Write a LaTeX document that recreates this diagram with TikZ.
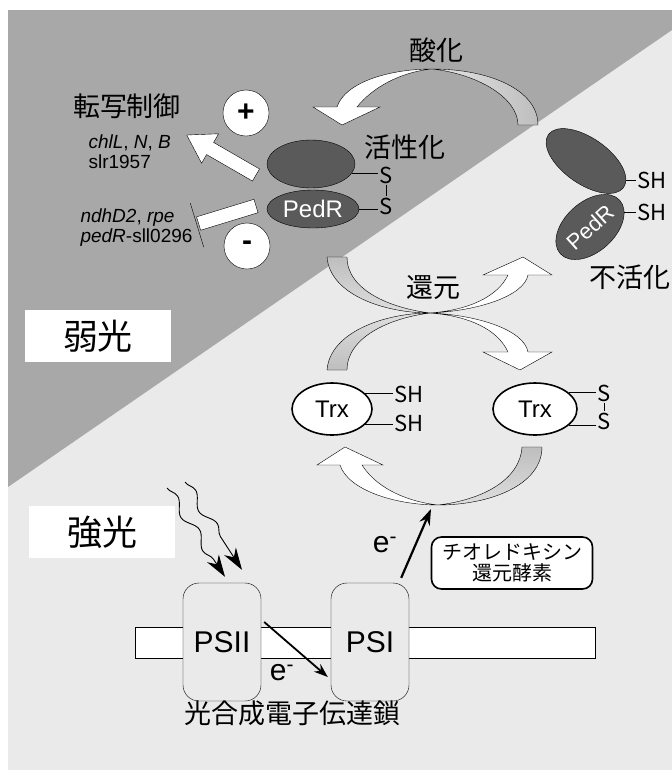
\documentclass[tikz,border=0pt]{standalone}
\usepackage{fontspec}
\setmainfont{Liberation Sans}
\newfontfamily\jp{Noto Sans CJK JP}
\usepackage{xcolor}
\usetikzlibrary{shapes.geometric,arrows.meta,decorations.pathmorphing}

\definecolor{darkbg}{RGB}{168,168,168}
\definecolor{lightbg}{RGB}{234,234,234}
\definecolor{pedgray}{RGB}{90,90,90}
\definecolor{tailgray}{RGB}{190,190,190}

\begin{document}
\begin{tikzpicture}[x=1pt,y=-1pt,
  pedr/.style={ellipse, draw, fill=pedgray, inner sep=0pt},
  trx/.style={ellipse, draw, line width=1.6pt, fill=white, inner sep=0pt,
    minimum height=52pt, font=\fontsize{24}{24}\selectfont},
  ps/.style={draw, rounded corners=16pt, fill=lightbg, minimum width=78pt,
    minimum height=118pt, font=\fontsize{30}{30}\selectfont},
  jlabel/.style={font=\jp\fontsize{27}{27}\selectfont},
  bond/.style={font=\jp\fontsize{22}{22}\selectfont, inner sep=1pt},
  sign/.style={circle, draw, fill=white, minimum size=46pt, inner sep=0pt,
    font=\bfseries\fontsize{30}{30}\selectfont},
  gene/.style={anchor=west, align=left, font=\fontsize{19}{20}\selectfont},
  lightbox/.style={fill=white, minimum width=146pt, minimum height=52pt,
    font=\jp\fontsize{35}{35}\selectfont},
  tailpart/.style={draw, fill=tailgray},
  headpart/.style={draw, fill=white},
  photon/.style={line width=0.9pt, decorate, decoration={snake, amplitude=4.5pt,
    segment length=40pt, post length=20pt}, -{Stealth[length=22pt, width=14pt]}}]
  \useasboundingbox (0,0) rectangle (672,772);

  % Fondo: luz debil / luz fuerte
  \fill[lightbg] (8,10) rectangle (672,770);
  \fill[darkbg] (8,10) -- (672,10) -- (672,30) -- (8,487) -- cycle;
  \node[lightbox] (weak) at (98,336) {弱光};
  \node[lightbox] (strong) at (102,532) {強光};

  % Oxidacion
  \node[jlabel] (oxid) at (436,50) {酸化};
  \filldraw[tailpart, left color=white!60!tailgray, right color=tailgray]
    (538,125) .. controls (538,90) and (490,69) .. (432,69)
    .. controls (478,74) and (518,98) .. (518,125) -- cycle;
  \filldraw[headpart] (432,69) .. controls (390,69) and (345,82) .. (337,107)
    -- (313,107) -- (342,125) -- (380,107) -- (357,107)
    .. controls (372,88) and (400,72) .. (432,69) -- cycle;

  % PedR activo
  \node[pedr, minimum width=88pt, minimum height=48pt] (pedUp) at (311,164) {};
  \node[pedr, minimum width=92pt, minimum height=38pt, text=white,
    font=\fontsize{24}{24}\selectfont] (pedLo) at (313,209) {PedR};
  \node[bond] (sA) at (386,175) {S};
  \node[bond] (sB) at (386,206) {S};
  \draw (pedUp.-12) -- (pedUp.-12 -| sA.west);
  \draw (pedLo.east) -- (pedLo.east -| sB.west);
  \draw (sA.south) -- (sB.north);
  \node[jlabel] (active) at (405,147) {活性化};

  % Control de transcripcion
  \node[jlabel] (transc) at (127,106) {転写制御};
  \node[gene] (upGenes) at (85,152) {\textit{chlL}, \textit{N}, \textit{B}\\slr1957};
  \node[gene] (downGenes) at (77,228) {\textit{ndhD2}, \textit{rpe}\\\textit{pedR}-sll0296};
  \node[sign] (plus) at (246,113) {+};
  \node[sign] (minus) at (247,246) {-};
  \begin{scope}[shift={(256,175)}, rotate=150]
    \filldraw[fill=white] (0,-7) -- (53,-7) -- (53,-17) -- (80,0) -- (53,17)
      -- (53,7) -- (0,7) -- cycle;
  \end{scope}
  \begin{scope}[shift={(256,206)}, rotate=-163]
    \filldraw[fill=white] (0,-7) -- (60,-7) -- (60,7) -- (0,7) -- cycle;
    \draw (62,-24) -- (62,22);
  \end{scope}

  % PedR inactivo
  \node[pedr, minimum width=92pt, minimum height=46pt, rotate=-35] (pedInUp) at (586,161) {};
  \node[pedr, minimum width=80pt, minimum height=50pt, rotate=42, text=white,
    font=\fontsize{22}{22}\selectfont] (pedInLo) at (590,227) {PedR};
  \node[bond] (shC) at (652,180) {SH};
  \node[bond] (shD) at (652,212) {SH};
  \draw (pedInUp.10) -- (pedInUp.10 -| shC.west);
  \draw (pedInLo.-18) -- (pedInLo.-18 -| shD.west);
  \node[jlabel] (inactive) at (630,277) {不活化};

  % Reduccion (flechas cruzadas)
  \node[jlabel] (reduc) at (433,288) {還元};
  \filldraw[tailpart, top color=tailgray, bottom color=white!50!tailgray]
    (327,257) .. controls (330,295) and (385,313) .. (430,313)
    .. controls (390,308) and (347,290) .. (347,257) -- cycle;
  \filldraw[headpart] (430,313) .. controls (478,315) and (524,330) .. (528,352)
    -- (552,352) -- (520,370) -- (483,352) -- (508,352)
    .. controls (498,330) and (470,316) .. (430,313) -- cycle;
  \filldraw[tailpart, top color=white!50!tailgray, bottom color=tailgray]
    (327,370) .. controls (330,332) and (385,313) .. (430,313)
    .. controls (390,318) and (347,337) .. (347,370) -- cycle;
  \filldraw[headpart] (430,313) .. controls (478,311) and (524,296) .. (528,275)
    -- (552,275) -- (523,257) -- (483,275) -- (508,275)
    .. controls (498,296) and (470,310) .. (430,313) -- cycle;

  % Trx
  \node[trx, minimum width=80pt] (trxL) at (332,409) {Trx};
  \node[trx, minimum width=84pt] (trxR) at (535,409) {Trx};
  \node[bond] (shA) at (409,394) {SH};
  \node[bond] (shB) at (409,423) {SH};
  \draw (trxL.25) -- (trxL.25 -| shA.west);
  \draw (trxL.-25) -- (trxL.-25 -| shB.west);
  \node[bond] (sC) at (604,393) {S};
  \node[bond] (sD) at (604,421) {S};
  \draw (trxR.26) -- (trxR.26 -| sC.west);
  \draw (trxR.-26) -- (trxR.-26 -| sD.west);
  \draw (sC.south) -- (sD.north);

  % Ciclo inferior
  \filldraw[tailpart, top color=tailgray, bottom color=white!50!tailgray]
    (542,447) .. controls (542,485) and (490,505) .. (438,505)
    .. controls (482,500) and (520,480) .. (522,447) -- cycle;
  \filldraw[headpart] (438,505) .. controls (395,505) and (348,490) .. (340,465)
    -- (317,465) -- (345,447) -- (383,465) -- (362,465)
    .. controls (378,490) and (410,502) .. (438,505) -- cycle;
  \coordinate (redPt) at (431,509);

  % Membrana y fotosistemas
  \draw[fill=white] (135,627) rectangle (595,658);
  \node[ps] (psII) at (222,642) {PSII};
  \node[ps] (psI) at (370,642) {PSI};
  \node[jlabel] (chain) at (292,713) {光合成電子伝達鎖};
  \node[draw, line width=1.6pt, rounded corners=10pt, fill=white, minimum width=161pt,
    minimum height=52pt, align=center, inner sep=1pt,
    font=\jp\fontsize{20}{21}\selectfont] (trxRed) at (512,563) {チオレドキシン\\還元酵素};

  % Luz
  \coordinate (lightA) at (167,488);
  \coordinate (lightB) at (185,482);
  \draw[photon] (lightA) -- ([shift={(3,-6)}]psII.north);
  \draw[photon] (lightB) -- ([shift={(20,-13)}]psII.north);

  % Electrones
  \draw[line width=1.8pt, -{Stealth[length=14pt, width=10pt]}]
    ([shift={(3,-20)}]psII.east) -- ([shift={(-3,35)}]psI.west);
  \node[font=\fontsize{30}{30}\selectfont] (eLow) at (282,673) {e\textsuperscript{-}};
  \draw[line width=2.2pt, -{Stealth[length=16pt, width=11pt]}]
    ([shift={(-8,-5)}]psI.north east) -- (redPt);
  \node[font=\fontsize{30}{30}\selectfont] (eUp) at (385,545) {e\textsuperscript{-}};
\end{tikzpicture}
\end{document}
